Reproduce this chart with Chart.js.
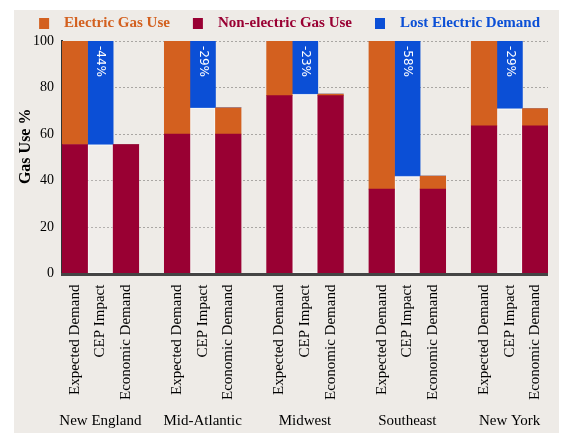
<!DOCTYPE html>
<html>
<head>
<meta charset="utf-8">
<script src="https://cdn.jsdelivr.net/npm/chart.js@4/dist/chart.umd.min.js"></script>
<style>
  body { margin: 0; background: #ffffff; }
  #panel { position: absolute; left: 14px; top: 10px; width: 545px; height: 423px; background: #eeebe7; }
  #wrap { position: absolute; left: 14px; top: 8px; width: 545px; height: 425px; }
</style>
</head>
<body>
<div id="panel"></div>
<div id="wrap"><canvas id="myChart"></canvas></div>
<script>
// regions and the three bars inside each region
const regions = ['New England', 'Mid-Atlantic', 'Midwest', 'Southeast', 'New York'];
const barNames = ['Expected Demand', 'CEP Impact', 'Economic Demand'];

// gas use %
const nonElectric = [55.5, 60, 76.5, 36.3, 63.5];        // same for expected and economic bars
const electricExpected = [44.5, 40, 23.5, 63.7, 36.5];
const electricEconomic = [0, 11.3, 0.7, 5.6, 7.5];
const cepRemaining = [55.5, 71.3, 77.2, 41.9, 71];       // blank part under the blue bar
const lostElectric = [44.5, 28.7, 22.8, 58.1, 29];
const lostLabels = ['-44%', '-29%', '-23%', '-58%', '-29%'];

const yTicks = [0, 20, 40, 60, 80, 100];

const colors = {
    electric: '#d3601f',
    nonElectric: '#990033',
    lost: '#0b4fd6'
};

document.addEventListener('DOMContentLoaded', function() {
    // build 19 slots: 3 bars per region plus an empty slot between regions
    const labels = [];
    const dNon = [], dElec = [], dBlank = [], dLost = [];
    regions.forEach(function(r, i) {
        labels.push(barNames[0], barNames[1], barNames[2]);
        dNon.push(nonElectric[i], 0, nonElectric[i]);
        dElec.push(electricExpected[i], 0, electricEconomic[i]);
        dBlank.push(0, cepRemaining[i], 0);
        dLost.push(0, lostElectric[i], 0);
        if (i < regions.length - 1) {
            labels.push('');
            dNon.push(null); dElec.push(null); dBlank.push(null); dLost.push(null);
        }
    });

    const extras = {
        id: 'extras',
        afterDatasetsDraw(chart) {
            const ctx = chart.ctx;
            const area = chart.chartArea;
            const x = chart.scales.x;
            ctx.save();

            // x axis line under the bars
            ctx.strokeStyle = '#444';
            ctx.lineWidth = 3;
            ctx.beginPath();
            ctx.moveTo(area.left - 1, area.bottom + 1);
            ctx.lineTo(area.right, area.bottom + 1);
            ctx.stroke();

            // region names
            ctx.font = '15px "Liberation Serif", serif';
            ctx.fillStyle = '#000';
            ctx.textAlign = 'center';
            ctx.textBaseline = 'middle';
            regions.forEach(function(r, i) {
                ctx.fillText(r, x.getPixelForValue(i * 4 + 1), chart.height - 12);
            });

            // y axis title
            ctx.save();
            ctx.font = 'bold 16px "Liberation Serif", serif';
            ctx.translate(11.5, (area.top + area.bottom) / 2 - 11);
            ctx.rotate(-Math.PI / 2);
            ctx.fillText('Gas Use %', 0, 0);
            ctx.restore();

            // loss labels inside the blue bars
            const meta = chart.getDatasetMeta(3);
            ctx.font = '12px "DejaVu Sans", sans-serif';
            ctx.fillStyle = '#ffffff';
            ctx.textAlign = 'left';
            regions.forEach(function(r, i) {
                const bar = meta.data[i * 4 + 1];
                ctx.save();
                ctx.translate(bar.x, bar.y + 5);
                ctx.rotate(Math.PI / 2);
                ctx.fillText(lostLabels[i], 0, 0);
                ctx.restore();
            });
            ctx.restore();
        }
    };

    const ctx = document.getElementById('myChart').getContext('2d');
    new Chart(ctx, {
        type: 'bar',
        data: {
            labels: labels,
            datasets: [
                { label: 'Electric Gas Use', data: dElec, backgroundColor: colors.electric, stack: 's', order: 2 },
                { label: 'Non-electric Gas Use', data: dNon, backgroundColor: colors.nonElectric, stack: 's', order: 1 },
                { label: 'blank', data: dBlank, backgroundColor: 'rgba(255,255,255,0.12)',
                  borderColor: 'rgba(255,255,255,0.5)', borderWidth: 1, stack: 's', order: 3 },
                { label: 'Lost Electric Demand', data: dLost, backgroundColor: colors.lost, stack: 's', order: 4 }
            ]
        },
        options: {
            responsive: true,
            maintainAspectRatio: false,
            animation: false,
            layout: { padding: { right: 11, bottom: 30, left: 0 } },
            datasets: { bar: { barPercentage: 1, categoryPercentage: 1, borderSkipped: false } },
            plugins: {
                tooltip: { enabled: false },
                legend: {
                    position: 'top',
                    align: 'end',
                    labels: {
                        boxWidth: 10,
                        boxHeight: 11,
                        padding: 8,
                        font: { family: '"Liberation Serif", serif', size: 15, weight: 'bold' },
                        filter: function(item) { return item.text.trim() !== 'blank'; },
                        sort: function(a, b) { return a.datasetIndex - b.datasetIndex; },
                        generateLabels: function(chart) {
                            const items = Chart.defaults.plugins.legend.labels.generateLabels(chart);
                            items.forEach(function(it, k) {
                                it.fontColor = it.fillStyle;
                                it.lineWidth = 0;
                                // spacing like the original legend
                                it.text = '  ' + it.text + (k < items.length - 1 ? '    ' : '');
                            });
                            return items;
                        }
                    }
                }
            },
            scales: {
                x: {
                    stacked: true,
                    grid: { display: false },
                    border: { display: false },
                    ticks: {
                        color: '#000',
                        autoSkip: false,
                        minRotation: 90,
                        maxRotation: 90,
                        padding: 3,
                        font: { family: '"Liberation Serif", serif', size: 15 }
                    }
                },
                y: {
                    stacked: true,
                    min: 0,
                    max: 100,
                    afterBuildTicks: function(axis) {
                        axis.ticks = yTicks.map(function(v) { return { value: v }; });
                    },
                    afterFit: function(axis) {
                        axis.width = 48;
                    },
                    border: { color: '#333', width: 2, display: true, dash: [2, 2] },
                    grid: { color: '#a9a6a3', drawTicks: false },
                    ticks: {
                        color: '#000',
                        padding: 8,
                        font: { family: '"Liberation Serif", serif', size: 14 }
                    }
                }
            }
        },
        plugins: [extras]
    });
});
</script>
</body>
</html>
